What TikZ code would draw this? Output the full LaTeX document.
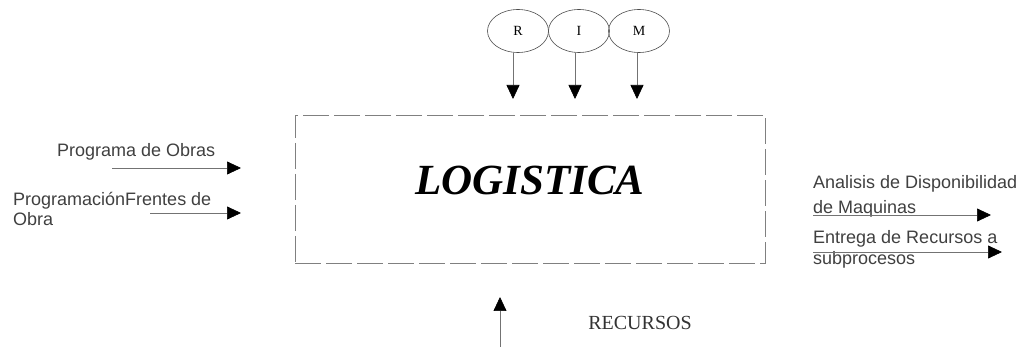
\documentclass[tikz,border=0pt]{standalone}
\usepackage{fontspec}
\setmainfont{Liberation Serif}
\newfontfamily\labelfont{Liberation Sans}
\usetikzlibrary{arrows.meta,shapes.geometric}
\begin{document}
\begin{tikzpicture}
    [x=1pt,y=-1pt,
    flow/.style={draw=black!55,line width=0.7pt,-{Triangle[length=14pt,width=13pt,black]}},
    ctrl/.style={ellipse,draw=black!70,line width=0.6pt,minimum width=61,minimum height=43,inner sep=0,font=\fontsize{14}{14}\selectfont},
    lbl/.style={inner sep=0,text=black!75,align=left,font=\labelfont\fontsize{18}{20}\selectfont}]
    \useasboundingbox (0,0) rectangle (1029,347);
    %process box
    \node[draw=black!50,dash pattern=on 26pt off 5pt,line width=0.7pt,minimum width=470,minimum height=148,inner sep=0] (proc) at (530,189) {};
    \node[font=\fontsize{43}{43}\selectfont\bfseries\itshape] (title) at (530,180) {LOGISTICA};
    %controls
    \node[ctrl] (r) at (518,31) {R};
    \node[ctrl] (i) at (579,31) {I};
    \node[ctrl] (m) at (639,31) {M};
    \coordinate (r-e) at (513,99);
    \coordinate (i-e) at (575,99);
    \coordinate (m-e) at (637,99);
    \draw[flow] (r.south -| r-e) -- (r-e);
    \draw[flow] (i.south -| i-e) -- (i-e);
    \draw[flow] (m.south -| m-e) -- (m-e);
    %inputs
    \node[lbl,anchor=west] (prog) at (57,152) {Programa de Obras};
    \coordinate (prog-a) at (112,168);
    \coordinate (prog-b) at (241,168);
    \draw[flow] (prog-a) -- (prog-b);
    \node[lbl,anchor=north west] (front) at (13,192) {ProgramaciónFrentes de\\[0pt]Obra};
    \coordinate (front-a) at (150,213);
    \coordinate (front-b) at (241,213);
    \draw[flow] (front-a) -- (front-b);
    %outputs
    \node[lbl,anchor=north west] (anal) at (813,175) {Analisis de Disponibilidad\\[5pt]de Maquinas};
    \coordinate (anal-a) at (813,215);
    \coordinate (anal-b) at (991,215);
    \draw[flow] (anal-a) -- (anal-b);
    \node[lbl,anchor=north west] (entr) at (813,230) {Entrega de Recursos a\\[1pt]subprocesos};
    \coordinate (entr-a) at (813,252);
    \coordinate (entr-b) at (1002,252);
    \draw[flow] (entr-a) -- (entr-b);
    %resources
    \coordinate (rec-a) at (500,347);
    \coordinate (rec-b) at (500,297);
    \draw[flow] (rec-a) -- (rec-b);
    \node[font=\fontsize{20}{20}\selectfont,text=black!80] (rec) at (640,323) {RECURSOS};
\end{tikzpicture}
\end{document}
